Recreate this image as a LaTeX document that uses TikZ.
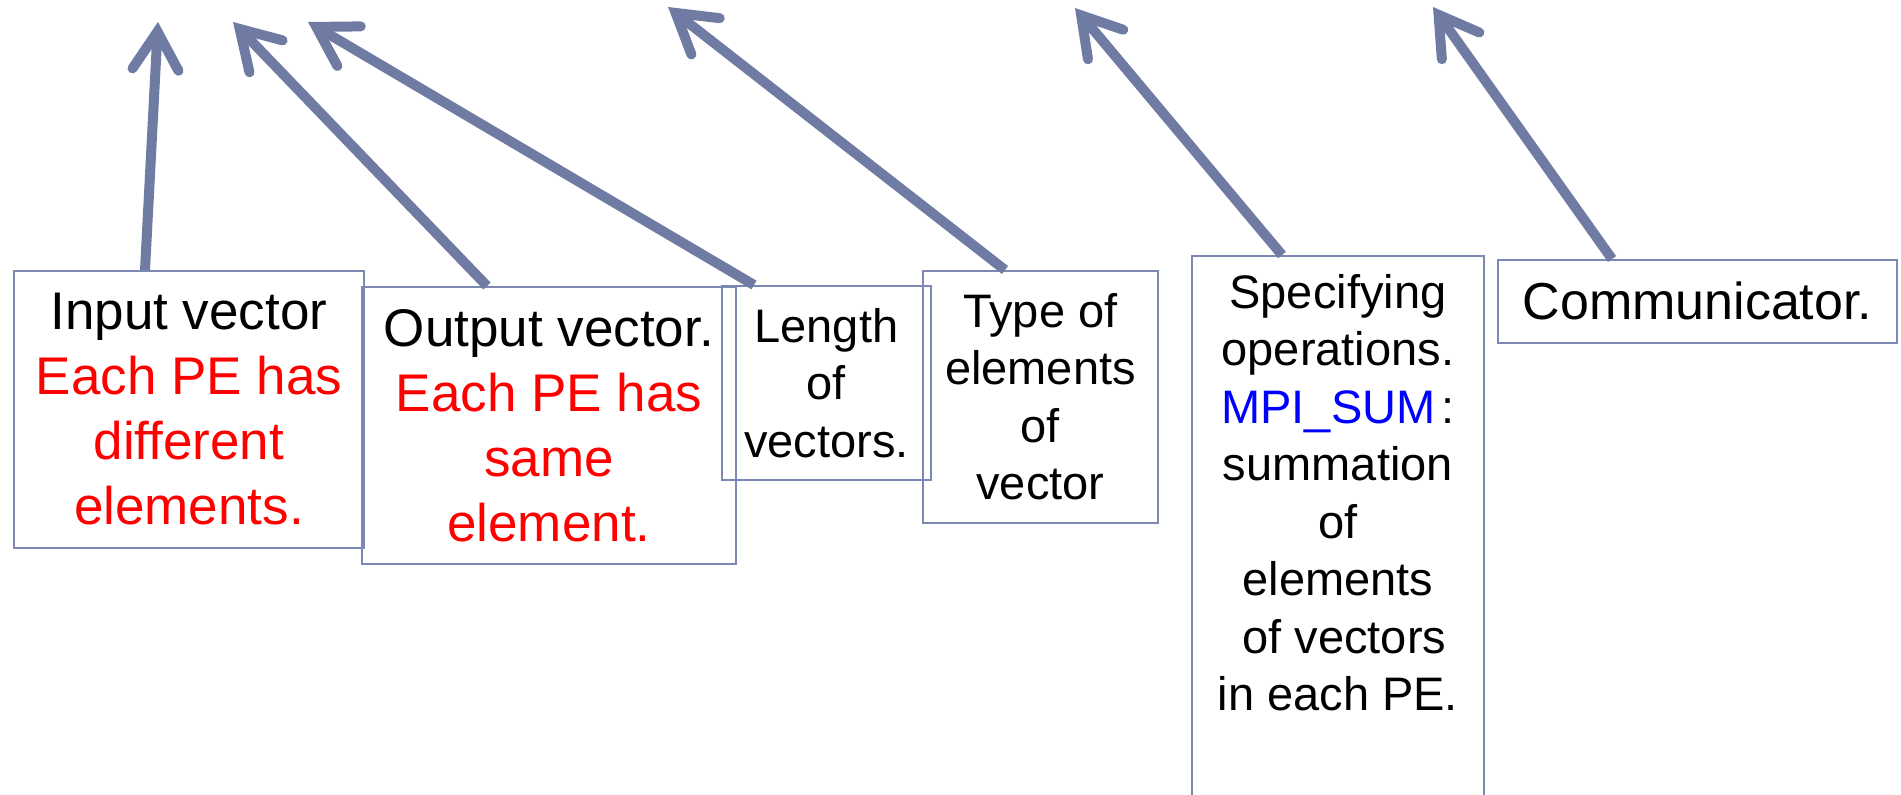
\documentclass[tikz,border=0pt]{standalone}
\usepackage{fontspec}
\setmainfont{Liberation Sans}
\usepackage{xcolor}
\usetikzlibrary{arrows.meta}
\definecolor{boxline}{RGB}{125,137,180}
\definecolor{arrline}{RGB}{112,123,163}

\begin{document}
\begin{tikzpicture}[x=1pt,y=-1pt,
  box/.style={draw=boxline,line width=1.8pt,inner sep=0pt,align=center,anchor=north west},
  ptr/.style={arrline,line width=10pt,-{Straight Barb[length=38pt,width=46pt,line cap=round,line join=miter]}},
  big/.style={font=\fontsize{53}{65}\selectfont},
  small/.style={font=\fontsize{47}{57.5}\selectfont}]
\path[use as bounding box,clip](0,0)rectangle(1901,795);
%% boxes
\node[box,big,minimum width=350pt,minimum height=277pt](in)at(13,270){Input vector\\\textcolor{red}{Each PE has}\\\textcolor{red}{different}\\\textcolor{red}{elements.}};
\node[box,big,minimum width=374pt,minimum height=277pt](out)at(361,286){Output vector.\\\textcolor{red}{Each PE has}\\\textcolor{red}{same}\\\textcolor{red}{element.}};
\node[box,small,minimum width=209pt,minimum height=194pt](len)at(721,285){Length\\of\\vectors.};
\node[box,small,minimum width=235pt,minimum height=252pt](typ)at(922,270){Type of\\elements\\of\\vector};
\node[box,minimum width=292pt,minimum height=560pt](op)at(1191,255){};
\node[small,align=center,inner sep=0pt,anchor=north](optext)at([yshift=-19pt]op.north){Specifying\\operations.\\\textcolor{blue}{MPI\_SUM}\hspace{6pt}:\\summation\\of\\elements\\\ of vectors\\in each PE.};
\node[box,font=\fontsize{52}{62}\selectfont,minimum width=399pt,minimum height=83pt](comm)at(1497,259){Communicator.};
%% arrow tips
\coordinate(t1)at(158,22);
\coordinate(t2)at(233,22);
\coordinate(t3)at(308,22);
\coordinate(t4)at(668,7);
\coordinate(t5)at(1075,8);
\coordinate(t6)at(1433,7);
\draw[ptr]([xshift=132pt]in.north west)--(t1);
\draw[ptr]([xshift=126pt]out.north west)--(t2);
\draw[ptr]([xshift=33pt]len.north west)--(t3);
\draw[ptr]([xshift=83pt]typ.north west)--(t4);
\draw[ptr]([xshift=91pt]op.north west)--(t5);
\draw[ptr]([xshift=115pt]comm.north west)--(t6);
\end{tikzpicture}
\end{document}
